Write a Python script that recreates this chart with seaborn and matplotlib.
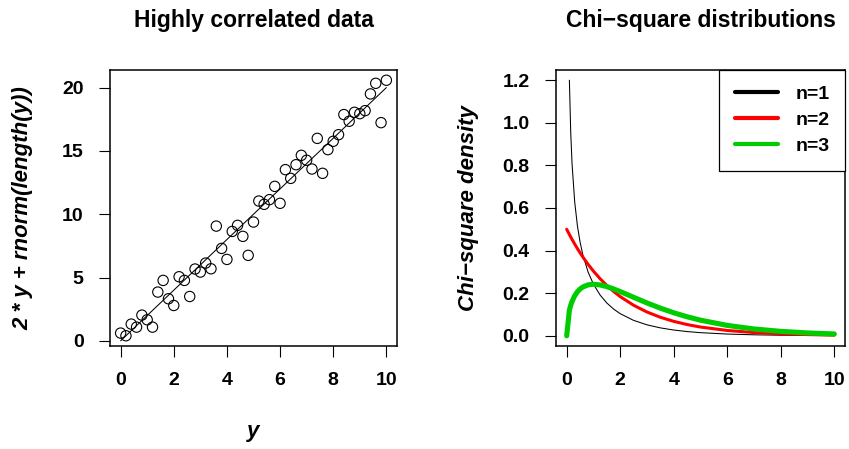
import numpy as np
import pandas as pd

import seaborn as sns
import matplotlib.pyplot as plt

sns.set_style("ticks")
plt.rcParams["font.family"] = ["Liberation Sans", "DejaVu Sans"]
plt.rcParams["text.color"] = "black"
plt.rcParams["axes.labelcolor"] = "black"

DPI = 100
FIGSIZE = (8.49, 4.49)

# left panel: scatter values
y_vals = [0.0, 0.2, 0.4, 0.6, 0.8, 1.0, 1.2, 1.4, 1.6, 1.8,
          2.0, 2.2, 2.4, 2.6, 2.8, 3.0, 3.2, 3.4, 3.6, 3.8,
          4.0, 4.2, 4.4, 4.6, 4.8, 5.0, 5.2, 5.4, 5.6, 5.8,
          6.0, 6.2, 6.4, 6.6, 6.8, 7.0, 7.2, 7.4, 7.6, 7.8,
          8.0, 8.2, 8.4, 8.6, 8.8, 9.0, 9.2, 9.4, 9.6, 9.8, 10.0]
noisy_vals = [0.61, 0.40, 1.32, 1.08, 2.03, 1.66, 1.08, 3.85, 4.77, 3.32,
              2.79, 5.06, 4.77, 3.50, 5.67, 5.43, 6.14, 5.69, 9.06, 7.30,
              6.43, 8.64, 9.12, 8.25, 6.75, 9.38, 11.04, 10.78, 11.15, 12.20,
              10.86, 13.52, 12.83, 13.91, 14.65, 14.26, 13.57, 15.99, 13.23, 15.10,
              15.76, 16.28, 17.87, 17.34, 18.05, 17.94, 18.18, 19.50, 20.34, 17.23, 20.58]
line_x = [0, 10]
line_y = [0, 20]

# right panel: density curves
chi_x = [0, 0.1, 0.15, 0.2, 0.3, 0.4, 0.5, 0.6, 0.8, 1.0, 1.25, 1.5, 1.75,
         2, 2.5, 3, 3.5, 4, 4.5, 5, 6, 7, 8, 9, 10]
chi_n1 = [np.nan, 1.2000, 0.9556, 0.8072, 0.6269, 0.5164, 0.4394, 0.3815, 0.2990,
          0.2420, 0.1910, 0.1539, 0.1257, 0.1038, 0.0723, 0.0514, 0.0371, 0.0270,
          0.0198, 0.0146, 0.0081, 0.0046, 0.0026, 0.0015, 0.0009]
chi_n2 = [0.5, 0.4756, 0.4639, 0.4524, 0.4304, 0.4094, 0.3894, 0.3704, 0.3352,
          0.3033, 0.2676, 0.2362, 0.2084, 0.1839, 0.1433, 0.1116, 0.0869, 0.0677,
          0.0527, 0.0410, 0.0249, 0.0151, 0.0092, 0.0056, 0.0034]
chi_n3 = [0.0, 0.1200, 0.1433, 0.1614, 0.1881, 0.2066, 0.2197, 0.2289, 0.2392,
          0.2420, 0.2387, 0.2308, 0.2200, 0.2076, 0.1807, 0.1542, 0.1297, 0.1080,
          0.0892, 0.0732, 0.0487, 0.0319, 0.0207, 0.0133, 0.0085]
series_labels = ["n=1", "n=2", "n=3"]
series_colors = ["black", "#FF0000", "#00CD00"]
series_widths = [0.75, 2.2, 3.7]

x_ticks = [0, 2, 4, 6, 8, 10]
y_ticks_left = [0, 5, 10, 15, 20]
y_ticks_right = [0.0, 0.2, 0.4, 0.6, 0.8, 1.0, 1.2]


def style_axes(ax):
    for s in ax.spines.values():
        s.set_visible(True)
        s.set_linewidth(1.1)
        s.set_color("black")
    ax.tick_params(direction="out", length=8, width=0.8, pad=11,
                   labelsize=14, colors="black")
    for lab in ax.get_xticklabels() + ax.get_yticklabels():
        lab.set_fontweight("bold")


fig = plt.figure(figsize=FIGSIZE, dpi=DPI)
ax1 = fig.add_axes([110 / 849, 103 / 449, 287 / 849, 276 / 449])
ax2 = fig.add_axes([556 / 849, 103 / 449, 289 / 849, 276 / 449])

# left: scatter + line
scatter_df = pd.DataFrame({"y": y_vals, "v": noisy_vals})
sns.scatterplot(x="y", y="v", data=scatter_df, ax=ax1, marker="o",
                facecolor="none", edgecolor="black", linewidth=0.8, s=55)
sns.lineplot(x=line_x, y=line_y, ax=ax1, color="black", linewidth=0.75)
ax1.set_xlim(-0.4, 10.4)
ax1.set_ylim(-0.41, 21.39)
ax1.set_xticks(x_ticks)
ax1.set_yticks(y_ticks_left)
ax1.set_xlabel("y", fontsize=16, fontweight="bold", fontstyle="italic")
ax1.set_ylabel("2 * y + rnorm(length(y))", fontsize=16,
               fontweight="bold", fontstyle="italic")
ax1.xaxis.set_label_coords(0.5, -0.27)
ax1.yaxis.set_label_coords(-0.268, 0.5)
style_axes(ax1)

# right: chi-square densities
chi_df = pd.DataFrame({"x": chi_x, "n=1": chi_n1, "n=2": chi_n2, "n=3": chi_n3})
for lab, col, lw in zip(series_labels, series_colors, series_widths):
    sns.lineplot(x="x", y=lab, data=chi_df, ax=ax2, color=col,
                 linewidth=lw, label=lab)
ax2.set_xlim(-0.4, 10.4)
ax2.set_ylim(-0.048, 1.248)
ax2.set_xticks(x_ticks)
ax2.set_yticks(y_ticks_right)
ax2.set_yticklabels([f"{t:.1f}" for t in y_ticks_right])
ax2.set_xlabel("")
ax2.set_ylabel("Chi\u2212square density", fontsize=16,
               fontweight="bold", fontstyle="italic")
ax2.yaxis.set_label_coords(-0.266, 0.5)
style_axes(ax2)

leg = ax2.legend(loc="upper right", borderaxespad=0, fancybox=False,
                 frameon=True, edgecolor="black", framealpha=1,
                 prop={"weight": "bold", "size": 14},
                 handlelength=2.2, handletextpad=0.9, labelspacing=0.43,
                 borderpad=0.8)
leg.get_frame().set_linewidth(0.9)
for h in leg.get_lines():
    h.set_linewidth(3.0)

fig.text(253.5 / 849, 1 - 26.7 / 449, "Highly correlated data", ha="center",
         va="baseline", fontsize=16.5, fontweight="bold")
fig.text(700.5 / 849, 1 - 26.7 / 449, "Chi\u2212square distributions", ha="center",
         va="baseline", fontsize=16.5, fontweight="bold")

fig.savefig("out.png", dpi=DPI)
